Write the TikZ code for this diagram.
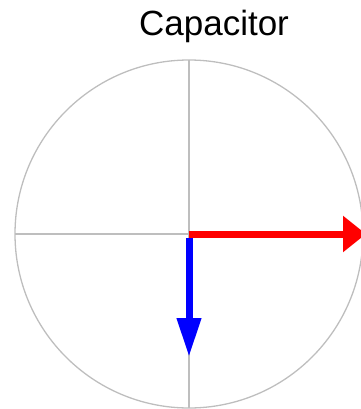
\documentclass[tikz,border=0pt]{standalone}
\usepackage{fontspec}
\setmainfont{Liberation Sans}
\usetikzlibrary{arrows.meta,positioning}
\definecolor{axisgray}{RGB}{190,190,190}
\begin{document}
\begin{tikzpicture}[x=1pt, y=-1pt,
      ax/.style={draw=axisgray, line width=1.3pt},
      varr/.style={line width=7pt}
    ]
      \useasboundingbox (0,0) rectangle (360,409);
      \coordinate (O) at (189,234);
      \node[font=\fontsize{35}{40}\selectfont, inner sep=0pt] (title) at (214,26) {Capacitor};
      \draw[ax] (O) circle (174);
      \draw[ax] (15,234) -- (363,234);
      \draw[ax] (189,60) -- (189,408);
      \coordinate (V) at (366,234);
      \coordinate (I) at (189,357);
      \draw[varr, red, -{Triangle[length=23pt, width=35pt]}] (O) -- (V);
      \draw[varr, blue, -{Triangle[length=39pt, width=23pt]}] ([yshift=-4pt]O) -- (I);
    \end{tikzpicture}
\end{document}
